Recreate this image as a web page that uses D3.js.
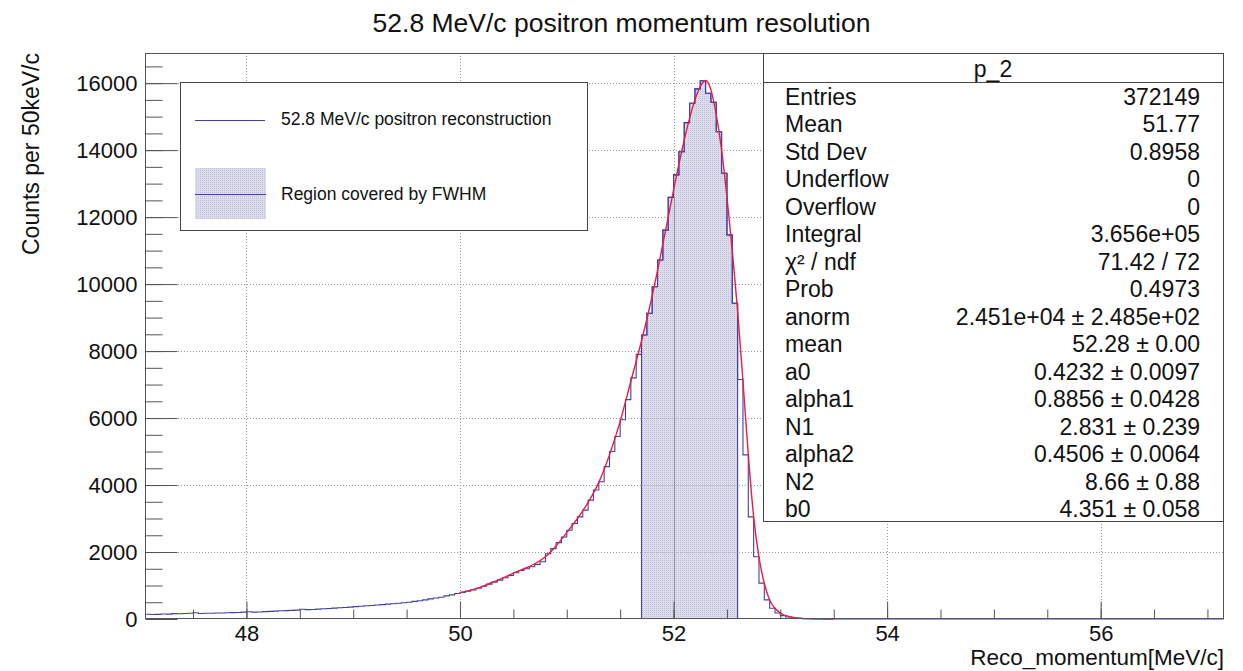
<!DOCTYPE html>
<html>
<head>
<meta charset="utf-8">
<script src="https://cdn.jsdelivr.net/npm/d3@7"></script>
<style>
    html, body {
        margin: 0;
        padding: 0;
        background: #ffffff;
    }
    svg text {
        font-family: "Liberation Sans", Arial, Helvetica, sans-serif;
        fill: #111111;
    }
</style>
</head>
<body>
<div id="vis"></div>
<script>
// histogram: 50 keV bins starting at 47.05 MeV/c
var binStart = 47.05
var binWidth = 0.05
var counts = [
    140, 135, 138, 150, 145, 160, 155, 165, 170, 185,
    165, 170, 172, 178, 180, 185, 190, 195, 205, 215,
    205, 210, 220, 228, 235, 245, 250, 258, 265, 290,
    280, 285, 295, 305, 315, 325, 335, 345, 355, 370,
    380, 395, 405, 420, 430, 445, 455, 470, 485, 500,
    525, 545, 570, 600, 625, 650, 690, 720, 760,
    // 50.00
    790, 830, 870, 920, 980, 1040, 1100, 1160, 1230, 1300,
    1380, 1450, 1500, 1560, 1630, 1710, 1950, 2100, 2280, 2450,
    // 51.00
    2650, 2850, 3050, 3250, 3550, 3850, 4100, 4550, 5000, 5450,
    5950, 6550, 7200, 7900, 8480, 9130, 9920, 10720, 11610, 12590,
    // 52.00
    13260, 13950, 14820, 15400, 15830, 16070, 15700, 15430, 14550, 13310,
    11470, 9430, 7150, 4900, 3050, 1860, 1070, 570, 320, 180,
    // 53.00
    100, 60, 35, 20, 12, 7, 4, 3, 2, 1
]

// fitted function (red curve)
var fitX = [50.0, 50.1, 50.2, 50.3, 50.4, 50.5, 50.6, 50.7, 50.8, 50.9,
    51.0, 51.1, 51.2, 51.3, 51.4, 51.5, 51.6, 51.7, 51.75, 51.8,
    51.85, 51.9, 51.95, 52.0, 52.05, 52.1, 52.15, 52.2, 52.25, 52.3,
    52.35, 52.4, 52.45, 52.5, 52.55, 52.6, 52.65, 52.7, 52.75, 52.8,
    52.85, 52.9, 52.95, 53.0, 53.1, 53.2, 53.3, 53.4, 53.5]
var fitY = [790, 860, 960, 1090, 1220, 1370, 1500, 1650, 1860, 2180,
    2580, 3000, 3480, 4080, 4900, 5900, 7100, 8300, 8950, 9650,
    10400, 11200, 12000, 12800, 13580, 14300, 14950, 15500, 15900, 16080,
    15800, 15050, 14000, 12600, 11000, 9200, 7100, 4900, 3050, 1850,
    1060, 570, 320, 180, 60, 20, 6, 2, 0.5]

// FWHM region
var fwhmLow = 51.70
var fwhmHigh = 52.60

var xDomain = [47.05, 57.155]
var yDomain = [0, 16900]
var xMajorTicks = [48, 50, 52, 54, 56]
var yMajorTicks = [0, 2000, 4000, 6000, 8000, 10000, 12000, 14000, 16000]

var chartTitle = "52.8 MeV/c positron momentum resolution"
var xTitle = "Reco_momentum[MeV/c]"
var yTitle = "Counts per 50keV/c"
var legendLabels = ["52.8 MeV/c positron reconstruction", "Region covered by FWHM"]

var statsName = "p_2"
var statLabels = ["Entries", "Mean", "Std Dev", "Underflow", "Overflow", "Integral",
    "\u03c7\u00b2 / ndf", "Prob", "anorm", "mean", "a0", "alpha1", "N1", "alpha2", "N2", "b0"]
var statValues = ["372149", "51.77", "0.8958", "0", "0", "3.656e+05", "71.42 / 72", "0.4973",
    "2.451e+04 \u00b1 2.485e+02", "52.28 \u00b1 0.00", "0.4232 \u00b1 0.0097", "0.8856 \u00b1 0.0428",
    "2.831 \u00b1 0.239", "0.4506 \u00b1 0.0064", "8.66 \u00b1 0.88", "4.351 \u00b1 0.058"]

var histColor = "#4141a4"
var fitColor = "#ec1c3e"

var W = 1243, H = 671
var frame = { left: 145, right: 1224, top: 53, bottom: 619 }

var svg = d3.select("#vis").append("svg")
    .attr("width", W)
    .attr("height", H)

// fine dotted fill (like ROOT fill style 3001), kept light
var defs = svg.append("defs")
var pat = defs.append("pattern")
    .attr("id", "dots")
    .attr("width", 2)
    .attr("height", 2)
    .attr("patternUnits", "userSpaceOnUse")
pat.append("rect")
    .attr("width", 2)
    .attr("height", 2)
    .attr("fill", "#dcdcec")
pat.append("rect")
    .attr("width", 1)
    .attr("height", 1)
    .attr("fill", "#c2c2dc")

var x = d3.scaleLinear().domain(xDomain).range([frame.left, frame.right])
var y = d3.scaleLinear().domain(yDomain).range([frame.bottom, frame.top])

// grid
svg.append("g")
    .selectAll("line")
    .data(xMajorTicks)
    .enter().append("line")
    .attr("x1", function (d) { return Math.round(x(d)) + 0.5 })
    .attr("x2", function (d) { return Math.round(x(d)) + 0.5 })
    .attr("y1", frame.top)
    .attr("y2", frame.bottom)
    .attr("stroke", "#999")
    .attr("stroke-dasharray", "1,2")

svg.append("g")
    .selectAll("line")
    .data(yMajorTicks.filter(function (d) { return d > 0 }))
    .enter().append("line")
    .attr("x1", frame.left)
    .attr("x2", frame.right)
    .attr("y1", function (d) { return Math.round(y(d)) + 0.5 })
    .attr("y2", function (d) { return Math.round(y(d)) + 0.5 })
    .attr("stroke", "#999")
    .attr("stroke-dasharray", "1,2")

// histogram points
var pts = counts.map(function (c, i) { return [binStart + i * binWidth, c] })
var lastEdge = binStart + counts.length * binWidth
pts.push([lastEdge, 0])
pts.push([xDomain[1], 0])

var stepLine = d3.line()
    .x(function (d) { return x(d[0]) })
    .y(function (d) { return y(d[1]) })
    .curve(d3.curveStepAfter)

// FWHM region
var fwhmPts = [[fwhmLow, 0]]
counts.forEach(function (c, i) {
    var lo = binStart + i * binWidth
    if (lo >= fwhmLow - 1e-6 && lo < fwhmHigh - 1e-6) fwhmPts.push([lo, c])
})
fwhmPts.push([fwhmHigh, fwhmPts[fwhmPts.length - 1][1]])
fwhmPts.push([fwhmHigh, 0])

svg.append("path")
    .attr("d", stepLine(fwhmPts))
    .attr("fill", "url(#dots)")
    .attr("stroke", histColor)
    .attr("stroke-width", 1.1)

// grid lines show through the pattern
svg.append("g")
    .selectAll("line")
    .data(xMajorTicks.filter(function (d) { return d > fwhmLow && d < fwhmHigh }))
    .enter().append("line")
    .attr("x1", function (d) { return Math.round(x(d)) + 0.5 })
    .attr("x2", function (d) { return Math.round(x(d)) + 0.5 })
    .attr("y1", y(counts[Math.round((52.0 - binStart) / binWidth) - 1]))
    .attr("y2", frame.bottom)
    .attr("stroke", "#8a8aa8")
    .attr("stroke-width", 1)

svg.append("g")
    .selectAll("line")
    .data(yMajorTicks.filter(function (d) { return d > 0 && d < 8000 }))
    .enter().append("line")
    .attr("x1", x(fwhmLow))
    .attr("x2", x(fwhmHigh))
    .attr("y1", function (d) { return Math.round(y(d)) + 0.5 })
    .attr("y2", function (d) { return Math.round(y(d)) + 0.5 })
    .attr("stroke", "#9a9ab4")
    .attr("stroke-dasharray", "1,2")

svg.append("path")
    .attr("d", stepLine(pts))
    .attr("fill", "none")
    .attr("stroke", histColor)
    .attr("stroke-width", 1.1)

// fit
var fitLine = d3.line()
    .x(function (d) { return x(d[0]) })
    .y(function (d) { return y(d[1]) })
    .curve(d3.curveMonotoneX)

svg.append("path")
    .attr("d", fitLine(fitX.map(function (v, i) { return [v, fitY[i]] })))
    .attr("fill", "none")
    .attr("stroke", fitColor)
    .attr("stroke-width", 1.4)

// frame
svg.append("rect")
    .attr("x", frame.left + 0.5)
    .attr("y", frame.top + 0.5)
    .attr("width", frame.right - frame.left - 1)
    .attr("height", frame.bottom - frame.top - 1)
    .attr("fill", "none")
    .attr("stroke", "#555")

// x axis
var xAxis = d3.axisBottom(x)
    .tickValues(d3.range(47.5, 57.01, 0.5))
    .tickSize(-9)
    .tickFormat("")
svg.append("g")
    .attr("transform", "translate(0," + (frame.bottom - 0.5) + ")")
    .call(xAxis)
    .call(function (g) { g.select(".domain").remove() })
    .selectAll("line").attr("stroke", "#555")

var xAxisMajor = d3.axisBottom(x)
    .tickValues(xMajorTicks)
    .tickSize(-17)
    .tickPadding(7)
    .tickFormat(d3.format("d"))
var gx = svg.append("g")
    .attr("transform", "translate(0," + (frame.bottom - 0.5) + ")")
    .call(xAxisMajor)
gx.select(".domain").remove()
gx.selectAll("line").attr("stroke", "#555")
gx.selectAll("text")
    .style("font-size", "22px")
    .attr("fill", "#111")

// y axis
var yAxis = d3.axisLeft(y)
    .tickValues(d3.range(500, 16901, 500))
    .tickSize(-17)
    .tickFormat("")
svg.append("g")
    .attr("transform", "translate(" + (frame.left + 0.5) + ",0)")
    .call(yAxis)
    .call(function (g) { g.select(".domain").remove() })
    .selectAll("line").attr("stroke", "#555")

var yAxisMajor = d3.axisLeft(y)
    .tickValues(yMajorTicks)
    .tickSize(-32)
    .tickPadding(8)
    .tickFormat(d3.format("d"))
var gy = svg.append("g")
    .attr("transform", "translate(" + (frame.left + 0.5) + ",0)")
    .call(yAxisMajor)
gy.select(".domain").remove()
gy.selectAll("line").attr("stroke", "#555")
gy.selectAll("text")
    .style("font-size", "22px")
    .attr("fill", "#111")

// titles
svg.append("text")
    .attr("x", W / 2)
    .attr("y", 32)
    .attr("text-anchor", "middle")
    .style("font-size", "26.5px")
    .text(chartTitle)

svg.append("text")
    .attr("x", frame.right)
    .attr("y", 665)
    .attr("text-anchor", "end")
    .style("font-size", "22.5px")
    .text(xTitle)

svg.append("text")
    .attr("transform", "translate(39," + frame.top + ") rotate(-90)")
    .attr("text-anchor", "end")
    .style("font-size", "23px")
    .text(yTitle)

// legend
var leg = svg.append("g")
leg.append("rect")
    .attr("x", 180.5).attr("y", 82.5)
    .attr("width", 407).attr("height", 148)
    .attr("fill", "#fff")
    .attr("stroke", "#444")
leg.append("line")
    .attr("x1", 195).attr("x2", 265)
    .attr("y1", 120.5).attr("y2", 120.5)
    .attr("stroke", histColor)
leg.append("rect")
    .attr("x", 195).attr("y", 168)
    .attr("width", 71).attr("height", 51)
    .attr("fill", "url(#dots)")
leg.append("line")
    .attr("x1", 195).attr("x2", 266)
    .attr("y1", 194.5).attr("y2", 194.5)
    .attr("stroke", histColor)
    .attr("stroke-width", 1.2)
leg.selectAll("text.lab")
    .data(legendLabels)
    .enter().append("text")
    .attr("class", "lab")
    .attr("x", 281)
    .attr("y", function (d, i) { return i == 0 ? 125 : 200 })
    .style("font-size", "17.5px")
    .text(function (d) { return d })

// stats box
var st = svg.append("g")
st.append("rect")
    .attr("x", 763.5).attr("y", 53.5)
    .attr("width", 460).attr("height", 468)
    .attr("fill", "#fff")
    .attr("stroke", "#444")
st.append("line")
    .attr("x1", 763.5).attr("x2", 1223.5)
    .attr("y1", 82.5).attr("y2", 82.5)
    .attr("stroke", "#444")
st.append("text")
    .attr("x", 993)
    .attr("y", 77)
    .attr("text-anchor", "middle")
    .style("font-size", "23px")
    .text(statsName)
st.selectAll("text.sl")
    .data(statLabels)
    .enter().append("text")
    .attr("class", "sl")
    .attr("x", 785)
    .attr("y", function (d, i) { return 104.5 + i * 27.5 })
    .style("font-size", "23px")
    .text(function (d) { return d })
st.selectAll("text.sv")
    .data(statValues)
    .enter().append("text")
    .attr("class", "sv")
    .attr("x", 1200)
    .attr("y", function (d, i) { return 104.5 + i * 27.5 })
    .attr("text-anchor", "end")
    .style("font-size", "23px")
    .text(function (d) { return d })
</script>
</body>
</html>
